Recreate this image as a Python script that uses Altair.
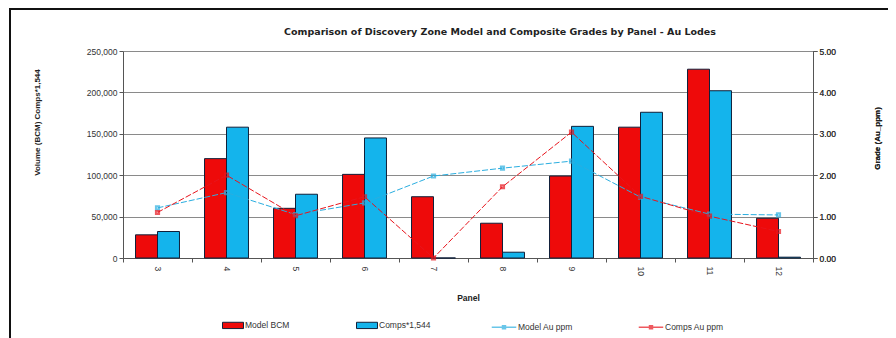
import altair as alt
import pandas as pd

panels = ["3", "4", "5", "6", "7", "8", "9", "10", "11", "12"]
model_bcm = [28000, 120000, 60000, 101000, 74000, 42000, 99000, 158000, 228000, 48000]
comps_bcm = [32000, 158000, 77000, 145000, 0, 7000, 159000, 176000, 202000, 1000]
model_au = [1.21, 1.58, 1.05, 1.33, 1.98, 2.17, 2.34, 1.47, 1.06, 1.04]
comps_au = [1.10, 2.00, 1.02, 1.48, 0.00, 1.72, 3.04, 1.49, 1.01, 0.64]

chart_title = "Comparison of Discovery Zone Model and Composite Grades by Panel - Au Lodes"
bar_series = ["Model BCM", "Comps*1,544"]
line_series = ["Model Au ppm", "Comps Au ppm"]

bars_df = pd.DataFrame(
    [{"Panel": p, "series": bar_series[0], "value": v} for p, v in zip(panels, model_bcm)]
    + [{"Panel": p, "series": bar_series[1], "value": v} for p, v in zip(panels, comps_bcm)]
)
lines_df = pd.DataFrame(
    [{"Panel": p, "series": line_series[0], "grade": v} for p, v in zip(panels, model_au)]
    + [{"Panel": p, "series": line_series[1], "grade": v} for p, v in zip(panels, comps_au)]
)

FONT = "Liberation Sans"

x_enc = alt.X(
    "Panel:N",
    sort=panels,
    scale=alt.Scale(paddingInner=0, paddingOuter=0),
    axis=alt.Axis(
        title="Panel",
        labelAngle=90,
        tickBand="extent",
        tickSize=4,
        grid=False,
        domainColor="#555555",
        tickColor="#555555",
        labelFontSize=8.5,
        labelColor="#333333",
        titleFontSize=8.5,
        titleFontWeight="bold",
        titleColor="#222222",
        titleY=35,
        labelPadding=4,
    ),
)

bars = alt.Chart(bars_df).mark_bar(stroke="#10203a", strokeWidth=1).encode(
    x=x_enc,
    xOffset=alt.XOffset("series:N", sort=bar_series,
                        scale=alt.Scale(paddingInner=0, paddingOuter=0.57)),
    y=alt.Y(
        "value:Q",
        scale=alt.Scale(domain=[0, 250000]),
        axis=alt.Axis(
            title="Volume (BCM) Comps*1,544",
            values=[0, 50000, 100000, 150000, 200000, 250000],
            format=",.0f",
            orient="left",
            grid=True,
            gridColor="#8a8a8a",
            gridWidth=1,
            domainColor="#555555",
            tickColor="#555555",
            tickSize=4,
            labelFontSize=8.5,
            labelColor="#333333",
            titleFontSize=8,
            titleFontWeight="bold",
            titleColor="#222222",
            titleAngle=270,
            titleX=-82,
            titleY=71,
        ),
    ),
    fill=alt.Fill(
        "series:N",
        sort=bar_series,
        scale=alt.Scale(domain=bar_series, range=["#ee0a0a", "#14b4ec"]),
        legend=alt.Legend(
            title=None,
            orient="none",
            legendX=99,
            legendY=263,
            direction="horizontal",
            columnPadding=64,
            symbolType="M-1,-0.3H1V0.3H-1Z",
            symbolSize=440,
            symbolStrokeColor="#10203a",
            symbolStrokeWidth=1,
            labelFontSize=8.5,
            labelColor="#333333",
            labelOffset=1,
        ),
    ),
)

y2 = alt.Y(
    "grade:Q",
    scale=alt.Scale(domain=[0, 5]),
    axis=alt.Axis(
        title="Grade (Au_ppm)",
        values=[0, 1, 2, 3, 4, 5],
        format=".2f",
        orient="right",
        grid=False,
        domainColor="#555555",
        tickColor="#555555",
        tickSize=4,
        labelFontSize=8.5,
        labelColor="#333333",
        titleFontSize=8,
        titleFontWeight="bold",
        titleColor="#222222",
        titleAngle=270,
        titleX=68,
        titleY=87,
    ),
)

stroke_enc = alt.Stroke(
    "series:N",
    sort=line_series,
    scale=alt.Scale(domain=line_series, range=["#2aaee0", "#e8141c"]),
    legend=alt.Legend(
        title=None,
        orient="none",
        legendX=368,
        legendY=263,
        direction="horizontal",
        columnPadding=62,
        symbolType="M-1,0H1M-0.12,-0.12H0.12V0.12H-0.12Z",
        symbolSize=600,
        symbolStrokeWidth=1.5,
        labelFontSize=8.5,
        labelColor="#333333",
        labelOffset=1,
    ),
)

x_line = alt.X("Panel:N", sort=panels, bandPosition=0.5)

lines = alt.Chart(lines_df).mark_line(strokeWidth=1, strokeDash=[6, 2]).encode(
    x=x_line, y=y2, stroke=stroke_enc, detail="series:N"
)
points = alt.Chart(lines_df).mark_point(shape="square", size=10, filled=False, strokeWidth=2).encode(
    x=x_line, y=y2, stroke=stroke_enc
)

frame_df = pd.DataFrame({"k": [0]})
frame_top = alt.Chart(frame_df).mark_rule(color="#111111", strokeWidth=2).encode(
    x=alt.value(-114), x2=alt.value(780), y=alt.value(-42)
)
frame_left = alt.Chart(frame_df).mark_rule(color="#111111", strokeWidth=2).encode(
    x=alt.value(-113), y=alt.value(-43), y2=alt.value(300)
)
title_text = alt.Chart(frame_df).mark_text(
    font="DejaVu Sans", fontSize=9.5, fontWeight="bold", color="#222222",
    align="center", baseline="middle",
).encode(x=alt.value(377), y=alt.value(-19), text=alt.value(chart_title))

chart = (
    alt.layer(bars, lines, points, frame_top, frame_left, title_text)
    .resolve_scale(y="independent")
    .properties(
        width=690,
        height=207,
        padding={"left": 115, "top": 43, "right": 75, "bottom": 80},
        autosize=alt.AutoSizeParams(type="none"),
    )
    .configure(font=FONT, background="white")
    .configure_view(stroke=None)
)

chart.save("out.html", embed_options={"renderer": "svg", "actions": False})
